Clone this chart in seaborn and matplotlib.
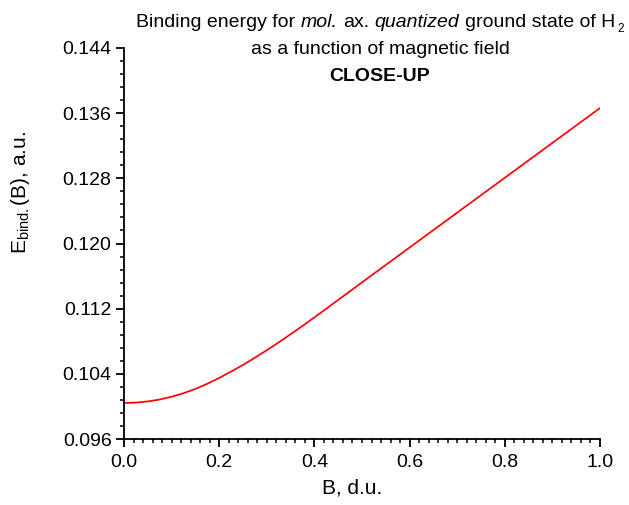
import matplotlib
matplotlib.use("Agg")
import matplotlib.pyplot as plt
from matplotlib.ticker import MultipleLocator, FormatStrFormatter
import pandas as pd
import seaborn as sns

# Magnetic field (dimensionless units) and binding energy (atomic units)
field_B = [0.000, 0.025, 0.050, 0.075, 0.100, 0.125, 0.150, 0.175, 0.200,
           0.225, 0.250, 0.275, 0.300, 0.325, 0.350, 0.375, 0.400, 0.450,
           0.500, 0.550, 0.600, 0.650, 0.700, 0.750, 0.800, 0.850, 0.900,
           0.950, 1.000]
binding_E = [0.10042, 0.10047, 0.10061, 0.10085, 0.10119, 0.10162, 0.10215,
             0.10278, 0.10350, 0.10428, 0.10510, 0.10598, 0.10690, 0.10786,
             0.10886, 0.10988, 0.11093, 0.11307, 0.11523, 0.11737, 0.11951,
             0.12165, 0.12379, 0.12593, 0.12807, 0.13021, 0.13235, 0.13449,
             0.13663]

sns.set_style("ticks")
plt.rcParams["font.family"] = ["Liberation Sans", "DejaVu Sans"]
plt.rcParams["mathtext.fontset"] = "custom"
plt.rcParams["mathtext.rm"] = "Liberation Sans"
plt.rcParams["mathtext.it"] = "Liberation Sans:italic"
plt.rcParams["mathtext.bf"] = "Liberation Sans:bold"
plt.rcParams["text.color"] = "black"
plt.rcParams["axes.labelcolor"] = "black"
plt.rcParams["xtick.color"] = "black"
plt.rcParams["ytick.color"] = "black"

df = pd.DataFrame({"B": field_B, "E": binding_E})

W, H = 629, 505
fig = plt.figure(figsize=(W / 100, H / 100), dpi=100)
ax = fig.add_axes([124 / W, 1 - 439 / H, 476 / W, 391 / H])

sns.lineplot(data=df, x="B", y="E", ax=ax, color="#ff0000", linewidth=1.25)

ax.set_xlim(0.0, 1.0)
ax.set_ylim(0.096, 0.144)
ax.xaxis.set_major_locator(MultipleLocator(0.2))
ax.xaxis.set_minor_locator(MultipleLocator(0.02))
ax.yaxis.set_major_locator(MultipleLocator(0.008))
ax.yaxis.set_minor_locator(MultipleLocator(0.0016))
ax.xaxis.set_major_formatter(FormatStrFormatter("%.1f"))
ax.yaxis.set_major_formatter(FormatStrFormatter("%.3f"))

for side in ("top", "right"):
    ax.spines[side].set_visible(False)
for side in ("left", "bottom"):
    ax.spines[side].set_linewidth(1.3)
    ax.spines[side].set_color("black")

ax.tick_params(which="major", direction="out", length=6, width=1.3,
               labelsize=14, colors="black")
ax.tick_params(axis="x", which="major", pad=5)
ax.tick_params(axis="y", which="major", pad=3)
ax.tick_params(which="minor", direction="out", length=3.2, width=1.1,
               colors="black")

ax.set_xlabel("B, d.u.", fontsize=15, color="black")
ax.xaxis.set_label_coords(352 / W, (H - 478) / H, transform=fig.transFigure)
ax.set_ylabel(r"E$_{\mathrm{bind.}}$(B), a.u.", fontsize=15, color="black")
ax.yaxis.set_label_coords(32 / W, (H - 192) / H, transform=fig.transFigure)

# Title: three centred lines, the first one mixing upright and italic words
renderer = fig.canvas.get_renderer()
title_size = 14
title_cx = 380


def text_width(s, **kw):
    t = fig.text(0, 0, s, fontsize=kw.pop("fontsize", title_size), **kw)
    w = t.get_window_extent(renderer).width
    t.remove()
    return w


space_w = text_width("a a") - text_width("aa")
pieces = [("Binding energy for", "normal"), ("mol.", "italic"),
          ("ax.", "normal"), ("quantized", "italic"),
          ("ground state of H", "normal")]
sub_size = title_size * 0.6
widths = [text_width(s, style=st) for s, st in pieces]
sub_gap = 2
sub_w = text_width("2", fontsize=sub_size)
total = sum(widths) + space_w * (len(pieces) - 1) + sub_gap + sub_w

x = title_cx - total / 2
y1 = H - 27
for (s, st), w in zip(pieces, widths):
    fig.text(x / W, y1 / H, s, fontsize=title_size, style=st,
             ha="left", va="baseline", color="black")
    x += w + space_w
x = x - space_w + sub_gap
fig.text(x / W, (y1 - 5) / H, "2", fontsize=sub_size, ha="left",
         va="baseline", color="black")

fig.text(title_cx / W, (H - 54) / H, "as a function of magnetic field",
         ha="center", va="baseline", fontsize=title_size, color="black")
fig.text(title_cx / W, (H - 81) / H, "CLOSE-UP",
         ha="center", va="baseline", fontsize=title_size, fontweight="bold",
         color="black")

fig.savefig("out.png", dpi=100)
